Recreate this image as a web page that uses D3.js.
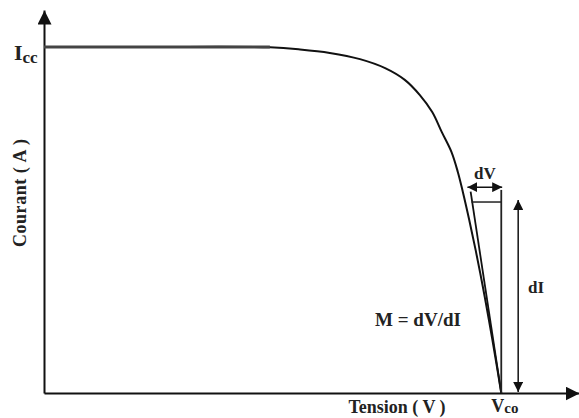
<!DOCTYPE html>
<html>
<head>
<meta charset="utf-8">
<script src="https://cdn.jsdelivr.net/npm/d3@7"></script>
<style>
  html, body { margin: 0; padding: 0; background: #fff; }
  svg { display: block; }
  text { font-family: "Liberation Serif", "Times New Roman", serif; font-weight: bold; fill: #222; }
</style>
</head>
<body>
<svg id="chart" width="579" height="418"></svg>
<script>
// ---- data (normalised units: V in % of Vco, I in fraction of Icc) ----
const voltage = [0, 23.1, 49.4, 56.0, 62.5, 69.1, 74.6, 78.9, 82.2, 84.9, 87.0, 89.1, 90.5, 91.6, 93.0, 94.4, 95.9, 97.3, 98.7, 100];
const current = [1.000, 1.000, 0.999, 0.993, 0.983, 0.965, 0.939, 0.905, 0.861, 0.812, 0.754, 0.697, 0.639, 0.581, 0.500, 0.413, 0.312, 0.211, 0.104, 0];
const xDomain = [0, 117];
const yDomain = [0, 1.107];
const Icc = 1;
const Vco = 100;
// tangent (slope M) near Vco
const tangentV = [93.3, 100];
const tangentI = [0.582, 0];
// dV / dI construction
const dVRange = [92.6, 100.2];   // dV arrow
const dVLevel = 0.595;
const stepV = [93.5, 100];       // short horizontal
const stepI = 0.552;
const vcoLineI = [0.587, 0];
const dIRange = [0.558, 0.003];
const dIAt = 103.7;
const labels = { x: "Tension ( V )", y: "Courant ( A )", m: "M = dV/dI" };

const svg = d3.select("#chart");
const x = d3.scaleLinear().domain(xDomain).range([44, 579]);
const y = d3.scaleLinear().domain(yDomain).range([393, 10]);

const defs = svg.append("defs");
function marker(id, size) {
  defs.append("marker").attr("id", id)
    .attr("viewBox", "0 0 10 10").attr("refX", 10).attr("refY", 5)
    .attr("markerWidth", size).attr("markerHeight", size)
    .attr("markerUnits", "userSpaceOnUse")
    .attr("orient", "auto-start-reverse")
    .append("path").attr("d", "M0,0 L10,5 L0,10 Z").attr("fill", "#111");
}
marker("axArrow", 14);
marker("smArrow", 10);

// axes
const gx = svg.append("g").attr("transform", `translate(0,${y(0)})`)
  .call(d3.axisBottom(x).tickValues([]).tickSizeOuter(0));
gx.select(".domain").attr("stroke", "#111").attr("stroke-width", 2).attr("marker-end", "url(#axArrow)");
const gy = svg.append("g").attr("transform", `translate(${x(0)},0)`)
  .call(d3.axisLeft(y).tickValues([]).tickSizeOuter(0));
gy.select(".domain").attr("stroke", "#111").attr("stroke-width", 2).attr("marker-end", "url(#axArrow)");

// I-V curve
const pts = voltage.map((v, i) => [v, current[i]]);
svg.append("path").datum(pts)
  .attr("fill", "none").attr("stroke", "#111").attr("stroke-width", 2)
  .attr("d", d3.line().x(d => x(d[0])).y(d => y(d[1])).curve(d3.curveCatmullRom));
// thicker gray plateau near Icc
svg.append("line").attr("x1", x(0)).attr("x2", x(voltage[2])).attr("y1", y(Icc)).attr("y2", y(Icc))
  .attr("stroke", "#444").attr("stroke-width", 3);

// tangent
svg.append("line").attr("x1", x(tangentV[0])).attr("y1", y(tangentI[0]))
  .attr("x2", x(tangentV[1])).attr("y2", y(tangentI[1]))
  .attr("stroke", "#111").attr("stroke-width", 1.8);
// horizontal step
svg.append("line").attr("x1", x(stepV[0])).attr("x2", x(stepV[1])).attr("y1", y(stepI)).attr("y2", y(stepI))
  .attr("stroke", "#222").attr("stroke-width", 1.5);
// vertical at Vco
svg.append("line").attr("x1", x(Vco)).attr("x2", x(Vco)).attr("y1", y(vcoLineI[0])).attr("y2", y(vcoLineI[1]))
  .attr("stroke", "#222").attr("stroke-width", 1.8);
// dV arrow
svg.append("line").attr("x1", x(dVRange[0])).attr("x2", x(dVRange[1])).attr("y1", y(dVLevel)).attr("y2", y(dVLevel))
  .attr("stroke", "#111").attr("stroke-width", 1.5)
  .attr("marker-start", "url(#smArrow)").attr("marker-end", "url(#smArrow)");
// dI arrow
svg.append("line").attr("x1", x(dIAt)).attr("x2", x(dIAt)).attr("y1", y(dIRange[0])).attr("y2", y(dIRange[1]))
  .attr("stroke", "#111").attr("stroke-width", 1.5)
  .attr("marker-start", "url(#smArrow)").attr("marker-end", "url(#smArrow)");

// labels
const icc = svg.append("text").attr("x", 14).attr("y", 60).attr("font-size", 22);
icc.append("tspan").text("I");
icc.append("tspan").attr("font-size", 17).attr("dy", 3).text("cc");

const vco = svg.append("text").attr("x", x(Vco) - 10).attr("y", 412).attr("font-size", 18);
vco.append("tspan").text("V");
vco.append("tspan").attr("font-size", 15).attr("dy", 1).text("co");

svg.append("text").attr("x", 397).attr("y", 413).attr("text-anchor", "middle").attr("font-size", 18).text(labels.x);
svg.append("text").attr("transform", "translate(26,193) rotate(-90)").attr("text-anchor", "middle")
  .attr("font-size", 18).attr("textLength", 108).attr("lengthAdjust", "spacing").text(labels.y);
svg.append("text").attr("x", 418).attr("y", 326).attr("text-anchor", "middle").attr("font-size", 19).text(labels.m);
svg.append("text").attr("x", (x(dVRange[0]) + x(dVRange[1])) / 2).attr("y", 179).attr("text-anchor", "middle")
  .attr("font-size", 17).text("dV");
svg.append("text").attr("x", 536).attr("y", 293).attr("text-anchor", "middle").attr("font-size", 17).text("dI");
</script>
</body>
</html>
